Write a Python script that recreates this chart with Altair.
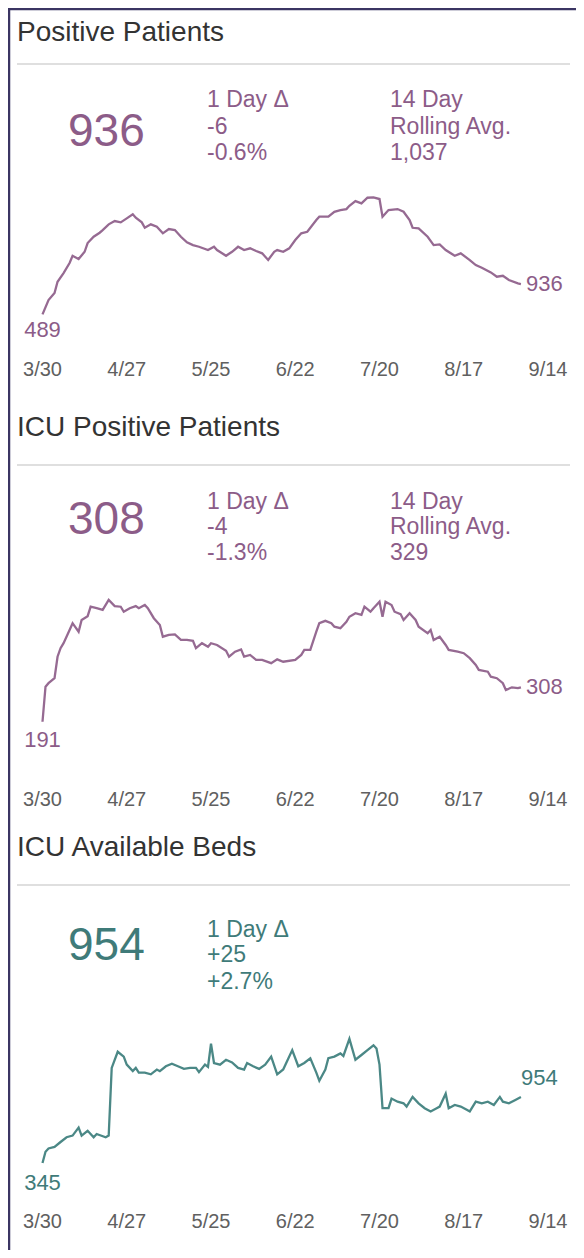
import altair as alt
import pandas as pd

# ---------------- data (days since 2020-03-30) ----------------
tick_days = [0, 28, 56, 84, 112, 140, 168]
tick_labels = ["3/30", "4/27", "5/25", "6/22", "7/20", "8/17", "9/14"]

pos_days = [0,2,4,5,7,9,10,12,14,15,17,19,20,22,24,26,28,30,31,33,34,36,38,40,42,44,46,48,50,52,
            55,57,58,61,63,65,67,69,71,73,75,77,78,80,82,84,86,88,91,92,95,97,99,101,102,104,106,108,110,112,
            113,115,118,120,122,123,125,128,130,132,134,137,139,142,144,146,149,151,153,155,158,159]
pos_vals = [489,700,803,970,1098,1246,1353,1305,1412,1541,1634,1693,1732,1817,1865,1846,1905,1964,1914,1846,
            1766,1817,1781,1684,1747,1732,1634,1551,1511,1486,1437,1486,1437,1353,1412,1486,1437,1463,1423,1389,
            1290,1412,1437,1412,1463,1585,1684,1707,1880,1929,1929,2002,2027,2042,2091,2160,2126,2209,2215,2190,
            1929,2027,2042,2002,1880,1766,1757,1634,1511,1521,1437,1353,1389,1290,1216,1176,1108,1044,1058,995,
            946,936]

icu_days = [0,1,2,4,5,6,7,9,10,12,13,15,16,18,20,22,24,26,27,29,31,32,34,35,37,39,40,42,44,46,
            48,50,51,53,55,56,58,61,62,64,66,67,69,71,73,76,78,80,84,86,87,89,91,92,94,96,97,99,101,102,
            104,106,107,109,110,112,113,114,116,117,119,120,122,124,125,128,129,130,132,134,
            135,138,140,142,144,145,148,149,151,153,154,156,158,159]
icu_vals = [191,310,322,339,412,441,458,503,526,497,537,550,582,577,571,605,584,582,565,577,
            584,577,588,577,543,520,480,486,488,469,469,466,441,458,446,458,452,432,412,429,
            437,412,418,401,401,390,403,395,401,418,435,435,497,526,534,526,514,509,531,548,
            560,554,582,565,577,599,548,599,588,565,557,537,560,537,514,492,503,469,480,452,
            435,429,424,407,384,367,361,344,339,322,299,308,305,308]

bed_days = [0,1,2,4,6,8,10,12,13,15,17,18,21,22,23,25,27,28,30,31,32,34,36,38,39,41,43,45,47,49,
            51,52,54,55,56,57,59,61,63,65,67,68,70,72,74,76,78,80,81,83,85,87,89,91,92,94,95,97,99,100,
            102,104,106,108,110,111,112,113,115,116,118,120,121,123,125,127,129,131,132,134,
            135,137,139,141,142,144,146,148,150,152,153,155,157,159]
bed_vals = [345,449,479,494,539,583,598,672,598,643,583,613,583,598,1223,1372,1327,1253,1193,1223,
            1179,1179,1164,1208,1193,1238,1262,1238,1214,1223,1223,1184,1253,1232,1446,1268,1253,1298,1274,1223,
            1208,1268,1238,1214,1253,1327,1164,1208,1268,1387,1238,1268,1312,1179,1104,1208,1312,1327,1357,1333,
            1491,1298,1342,1387,1432,1402,1253,851,851,940,911,896,866,955,896,851,821,851,866,985,
            851,881,866,836,821,911,896,911,881,955,911,896,925,954]

panel_titles = ["Positive Patients", "ICU Positive Patients", "ICU Available Beds"]
big_numbers = ["936", "308", "954"]
delta_texts = [["1 Day \u0394", "-6", "-0.6%"], ["1 Day \u0394", "-4", "-1.3%"], ["1 Day \u0394", "+25", "+2.7%"]]
avg_texts = [["14 Day", "Rolling Avg.", "1,037"], ["14 Day", "Rolling Avg.", "329"], []]

# ---------------- layout ----------------
W, H = 568, 1242
O = 8  # page margin offset (reference coords -> chart coords)
FONT = "Liberation Sans"
PURPLE_LINE = "#966a92"
PURPLE_TEXT = "#8c5c88"
TEAL_LINE = "#4b8886"
TEAL_TEXT = "#3f7b79"
TITLE_C = "#333333"
AXIS_C = "#606060"

xscale = alt.Scale(domain=[0, 168], range=[42.5 - O, 548 - O], nice=False, zero=False)

panels = [
    dict(days=pos_days, vals=pos_vals, line=PURPLE_LINE, text=PURPLE_TEXT,
         title_y=41, rule_y=64, big_y=146, rows=[100, 127, 153], axis_y=370,
         zero=347.5, upp=14.75, dmax=2400, start_dy=16, end_dx=5, end_dy=0),
    dict(days=icu_days, vals=icu_vals, line=PURPLE_LINE, text=PURPLE_TEXT,
         title_y=436, rule_y=465, big_y=534, rows=[502, 527, 553], axis_y=800,
         zero=777.9, upp=3.40, dmax=640, start_dy=18, end_dx=5, end_dy=0),
    dict(days=bed_days, vals=bed_vals, line=TEAL_LINE, text=TEAL_TEXT,
         title_y=856, rule_y=885, big_y=960, rows=[930, 955, 982], axis_y=1222,
         zero=1200.4, upp=9.23, dmax=1600, start_dy=20, end_dx=0, end_dy=-19),
]


def txt(s, x, y, size, color, align="left", baseline="middle"):
    return alt.Chart(pd.DataFrame({"t": [s]})).mark_text(
        align=align, baseline=baseline, fontSize=size, color=color, font=FONT
    ).encode(x=alt.value(x - O), y=alt.value(y - O), text="t:N")


layers = []
ticks_df = pd.DataFrame({"day": tick_days, "label": tick_labels})

for i, p in enumerate(panels):
    z = p["zero"] - O
    yscale = alt.Scale(domain=[0, p["dmax"]], range=[z, z - p["dmax"] / p["upp"]], nice=False, zero=True)
    df = pd.DataFrame({"day": p["days"], "value": p["vals"]})
    X = alt.X("day:Q", scale=xscale, axis=None)
    Y = alt.Y("value:Q", scale=yscale, axis=None)

    layers.append(alt.Chart(df).mark_line(color=p["line"], strokeWidth=2.3, interpolate="linear").encode(x=X, y=Y))
    layers.append(alt.Chart(df.iloc[[0]]).mark_text(
        align="center", baseline="middle", dy=p["start_dy"], fontSize=22, color=p["text"], font=FONT
    ).encode(x=X, y=Y, text=alt.Text("value:Q", format=",")))
    layers.append(alt.Chart(df.iloc[[-1]]).mark_text(
        align="left", baseline="middle", dx=p["end_dx"], dy=p["end_dy"], fontSize=22, color=p["text"], font=FONT
    ).encode(x=X, y=Y, text=alt.Text("value:Q", format=",")))

    # x tick labels
    layers.append(alt.Chart(ticks_df).mark_text(
        align="center", baseline="middle", fontSize=20, color=AXIS_C, font=FONT
    ).encode(x=X, y=alt.value(p["axis_y"] - O), text="label:N"))

    # header
    layers.append(txt(panel_titles[i], 17, p["title_y"], 28, TITLE_C, baseline="alphabetic"))
    layers.append(alt.Chart(pd.DataFrame({"a": [0]})).mark_rule(color="#d4d4d4", strokeWidth=1.5).encode(
        x=alt.value(17 - O), x2=alt.value(570 - O), y=alt.value(p["rule_y"] - O)))
    layers.append(txt(big_numbers[i], 68, p["big_y"], 46, p["text"], baseline="alphabetic"))
    for s, ry in zip(delta_texts[i], p["rows"]):
        layers.append(txt(s, 207, ry, 23, p["text"]))
    for s, ry in zip(avg_texts[i], p["rows"]):
        layers.append(txt(s, 390, ry, 23, p["text"]))

# outer border (left and top edges)
layers.append(alt.Chart(pd.DataFrame({"a": [0]})).mark_rule(color="#3b3563", strokeWidth=2.5).encode(
    x=alt.value(1), y=alt.value(0), y2=alt.value(H)))
layers.append(alt.Chart(pd.DataFrame({"a": [0]})).mark_rule(color="#3b3563", strokeWidth=2.5).encode(
    x=alt.value(0), x2=alt.value(W), y=alt.value(1)))

chart = alt.layer(*layers).resolve_scale(y="independent").properties(
    width=W, height=H, autosize=alt.AutoSizeParams(type="none"), padding=0
).configure_view(stroke=None).configure(background="white")

chart.save("out.html", embed_options={"renderer": "svg", "actions": False})
